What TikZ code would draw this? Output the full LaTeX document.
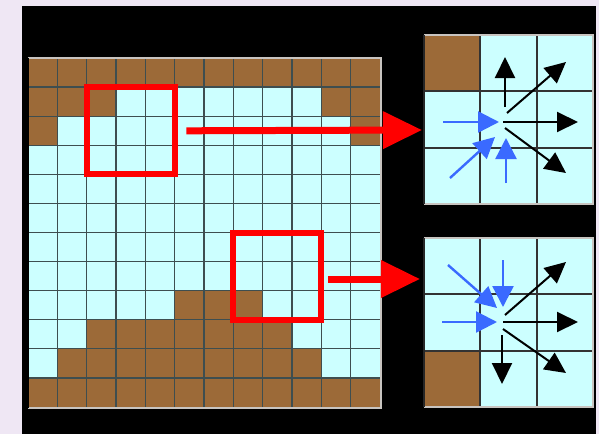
\documentclass[tikz,border=0pt]{standalone}
\usetikzlibrary{arrows.meta}
\definecolor{lav}{HTML}{EFE7F4}
\definecolor{brownc}{HTML}{9C6A38}
\definecolor{skyc}{HTML}{CCFFFF}
\definecolor{gridc}{HTML}{3E4E50}
\definecolor{bluec}{HTML}{3A6AFF}
\definecolor{rimc}{HTML}{C8C4C0}
\tikzset{
  redbox/.style={draw=red, line width=6pt, inner sep=0pt, minimum width=88pt, minimum height=87pt},
  smallgrid/.style={inner sep=0pt, minimum width=169pt, minimum height=169pt},
  redarr/.style={draw=red, line width=7pt, -{Triangle[length=39pt,width=36pt]}},
  blkarr/.style={draw=black, line width=2pt, -{Triangle[length=21pt,width=20pt]}},
  bluarr/.style={draw=bluec, line width=2.4pt, -{Triangle[length=21pt,width=21pt]}},
  cellline/.style={draw=gridc, line width=1.3pt},
  sgline/.style={draw=black!80, line width=2pt},
}
\begin{document}
\begin{tikzpicture}[x=1pt,y=-1pt]
\useasboundingbox (0,0) rectangle (599,434);
\fill[lav] (0,0) rectangle (599,434);
\fill[black] (22,6) rectangle (596,434);
% main grid
\fill[skyc] (28,58) rectangle (380,407);
\foreach \c/\r in {0/0,1/0,2/0,3/0,4/0,5/0,6/0,7/0,8/0,9/0,10/0,11/0,
                   0/1,1/1,2/1,10/1,11/1,
                   0/2,11/2,
                   5/8,6/8,7/8,
                   2/9,3/9,4/9,5/9,6/9,7/9,8/9,
                   1/10,2/10,3/10,4/10,5/10,6/10,7/10,8/10,9/10,
                   0/11,1/11,2/11,3/11,4/11,5/11,6/11,7/11,8/11,9/11,10/11,11/11}
  \fill[brownc] ({28+\c*352/12},{58+\r*349/12}) rectangle ++(352/12,349/12);
\foreach \i in {1,...,11} {
  \draw[cellline] ({28+\i*352/12},58) -- ({28+\i*352/12},407);
  \draw[cellline] (28,{58+\i*349/12}) -- (380,{58+\i*349/12});
}
\draw[rimc, line width=2pt] (28,57.5) -- (380.5,57.5) -- (380.5,407.5) -- (28,407.5);
\draw[black, line width=2pt] (28,57.5) -- (28,407.5);
% red boxes
\node[redbox] (box1) at (131.3,130.8) {};
\node[redbox] (box2) at (276.7,276) {};
% small grids
\node[smallgrid] (g1) at (508.5,119.5) {};
\node[smallgrid] (g2) at (508.5,322.5) {};
\foreach \g in {g1,g2} {
  \fill[skyc] (\g.north west) rectangle (\g.south east);
}
\fill[brownc] (g1.north west) rectangle ++(56.3,56.3);
\fill[brownc] (g2.south west) rectangle ++(56.3,-56.3);
\foreach \g in {g1,g2} {
  \draw[sgline] ([xshift=56.3pt]\g.north west) -- ([xshift=56.3pt]\g.south west);
  \draw[sgline] ([xshift=112.7pt]\g.north west) -- ([xshift=112.7pt]\g.south west);
  \draw[sgline] ([yshift=-56.3pt]\g.north west) -- ([yshift=-56.3pt]\g.north east);
  \draw[sgline] ([yshift=-112.7pt]\g.north west) -- ([yshift=-112.7pt]\g.north east);
  \draw[rimc, line width=2pt] (\g.north west) -- (\g.north east) -- (\g.south east) -- (\g.south west);
  \draw[black!85, line width=2pt] (\g.north west) -- (\g.south west);
}
% red arrows
\coordinate (t1) at (422,130);
\coordinate (s2) at (328,279);
\coordinate (t2) at (420,279);
\draw[redarr] ([xshift=8pt]box1.east) -- (t1);
\draw[redarr] (s2) -- (t2);
% arrows in upper small grid
\begin{scope}[shift={(505,122)}]
  \draw[blkarr] (0,-15) -- (0,-65);
  \draw[blkarr] (2,-9) -- (61,-60);
  \draw[blkarr] (-2,0) -- (73,0);
  \draw[blkarr] (0,6) -- (61,51);
  \draw[bluarr] (-62,0) -- (-6,0);
  \draw[bluarr] (-55,56) -- (-10,15);
  \draw[bluarr] (1,61) -- (1,16);
\end{scope}
% arrows in lower small grid
\begin{scope}[shift={(503,322)}]
  \draw[bluarr] (-55,-57) -- (-6,-14);
  \draw[bluarr] (0,-62) -- (0,-15);
  \draw[bluarr] (-61,0) -- (-6,0);
  \draw[blkarr] (2,-7) -- (63,-60);
  \draw[blkarr] (0,0) -- (75,0);
  \draw[blkarr] (0,7) -- (63,51);
  \draw[blkarr] (-1,13) -- (-1,62);
\end{scope}
\end{tikzpicture}
\end{document}
